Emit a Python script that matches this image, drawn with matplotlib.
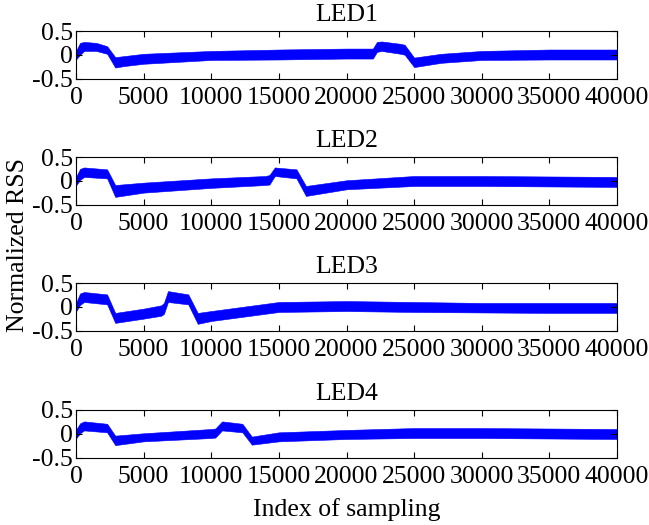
import matplotlib
matplotlib.use("Agg")
import matplotlib.pyplot as plt

# envelope of the noisy RSS trace (index, upper, lower)
led1_x = [0, 300, 600, 1500, 2300, 2900, 3500, 5000, 10000, 15000, 20000, 21950,
          22250, 22600, 24000, 24300, 25000, 27000, 30000, 35000, 40000]
led1_hi = [0.08, 0.25, 0.27, 0.25, 0.18, -0.05, -0.03, 0.02, 0.08, 0.11, 0.13, 0.13,
           0.27, 0.28, 0.23, 0.21, -0.06, 0.02, 0.08, 0.11, 0.11]
led1_lo = [-0.10, 0.00, 0.08, 0.08, 0.02, -0.27, -0.24, -0.19, -0.11, -0.10, -0.08, -0.08,
           0.06, 0.08, 0.02, 0.00, -0.26, -0.17, -0.11, -0.10, -0.10]

led2_x = [0, 300, 600, 2300, 2900, 5000, 10000, 14000, 14300, 14700, 16300, 17000,
          20000, 25000, 30000, 35000, 40000]
led2_hi = [0.08, 0.25, 0.28, 0.24, -0.09, -0.04, 0.05, 0.10, 0.12, 0.28, 0.24, -0.11,
           0.01, 0.10, 0.10, 0.09, 0.08]
led2_lo = [-0.10, 0.02, 0.08, 0.05, -0.34, -0.25, -0.15, -0.09, -0.08, 0.10, 0.05, -0.32,
           -0.18, -0.11, -0.11, -0.12, -0.13]

led3_x = [0, 300, 600, 2300, 2900, 5000, 6300, 6500, 6800, 8300, 9000, 10000,
          15000, 20000, 25000, 30000, 35000, 40000]
led3_hi = [0.08, 0.28, 0.31, 0.26, -0.13, -0.04, 0.03, 0.08, 0.33, 0.26, -0.13, -0.09,
           0.10, 0.12, 0.10, 0.08, 0.08, 0.08]
led3_lo = [-0.10, 0.04, 0.10, 0.05, -0.34, -0.25, -0.19, -0.15, 0.10, 0.05, -0.36, -0.30,
           -0.11, -0.09, -0.11, -0.12, -0.13, -0.13]

led4_x = [0, 300, 600, 2300, 2900, 5000, 10000, 10300, 10800, 12300, 13000, 15000,
          20000, 25000, 30000, 35000, 40000]
led4_hi = [0.08, 0.22, 0.26, 0.21, -0.04, 0.01, 0.10, 0.11, 0.26, 0.21, -0.06, 0.03,
           0.08, 0.12, 0.12, 0.11, 0.10]
led4_lo = [-0.10, 0.01, 0.07, 0.03, -0.24, -0.16, -0.09, -0.08, 0.07, 0.03, -0.23, -0.16,
           -0.11, -0.09, -0.09, -0.10, -0.11]

titles = ["LED1", "LED2", "LED3", "LED4"]
x_ticks = [0, 5000, 10000, 15000, 20000, 25000, 30000, 35000, 40000]
y_ticks = [-0.5, 0, 0.5]
y_ticklabels = ["-0.5", "0", "0.5"]

plt.rcParams["font.family"] = ["Liberation Serif", "DejaVu Serif"]
FS = 18.5

fig = plt.figure(figsize=(6.49, 5.25), dpi=100)

series = [(led1_x, led1_hi, led1_lo), (led2_x, led2_hi, led2_lo),
          (led3_x, led3_hi, led3_lo), (led4_x, led4_hi, led4_lo)]
tops = [31, 157, 283, 410]  # axes top, in pixels from the top
ax_h = 47.5

for (xs, hi, lo), title, top in zip(series, titles, tops):
    ax = fig.add_axes([76 / 649, 1 - (top + ax_h) / 525, 541 / 649, ax_h / 525])
    ax.fill_between(xs, lo, hi, color="blue", linewidth=0.4)
    ax.set_xlim(0, 40000)
    ax.set_ylim(-0.5, 0.5)
    ax.set_xticks(x_ticks)
    ax.set_xticklabels([str(t) for t in x_ticks])
    ax.set_yticks(y_ticks)
    ax.set_yticklabels(y_ticklabels)
    ax.tick_params(direction="in", top=True, right=True, length=4, width=0.8,
                   labelsize=FS)
    ax.tick_params(axis="x", pad=6)
    ax.tick_params(axis="y", pad=2)
    for sp in ax.spines.values():
        sp.set_linewidth(0.8)
    ax.set_title(title, fontsize=FS, pad=7)
    last = ax

last.set_xlabel("Index of sampling", fontsize=FS, labelpad=7)
fig.text(18 / 649, 1 - 245 / 525, "Normalized RSS", fontsize=FS, rotation=90,
         ha="center", va="center")

fig.savefig("out.png", dpi=100)
